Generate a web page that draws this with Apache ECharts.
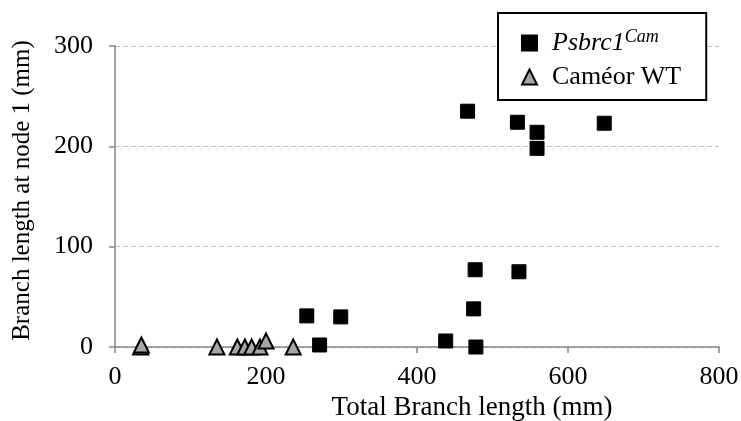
<!DOCTYPE html>
<html>
<head>
<meta charset="utf-8">
<script src="https://cdn.jsdelivr.net/npm/echarts@6/dist/echarts.min.js"></script>
<style>html,body{margin:0;padding:0;background:#fff}#c{width:741px;height:421px}</style>
</head>
<body>
<div id="c"></div>
<script>
const mutantName = 'Psbrc1Cam';
const wtName = 'Caméor WT';
const mutantPoints = [
  [467,235],[533,224],[559,214],[559,198],[648,223],
  [477,77],[535,75],[475,38],[438,6],[478,0],
  [254,31],[299,30],[271,2]
];
const wtPoints = [
  [34,0],[35,2],[135,0],[162,0],[172,0],[181,0],[192,0],[200,6],[236,0]
];
const xTicks = [0,200,400,600,800];
const yTicks = [0,100,200,300];

const font = 'Liberation Serif';
const fs = 26;
const chart = echarts.init(document.getElementById('c'));
chart.setOption({
  animation: false,
  backgroundColor: '#fff',
  grid: {left: 115, right: 22, top: 46, bottom: 74, containLabel: false, outerBoundsMode: 'none'},
  legend: {
    orient: 'vertical',
    left: 498, top: 13,
    padding: [15, 25, 10, 23],
    itemGap: 8,
    itemWidth: 15, itemHeight: 15,
    borderColor: '#000', borderWidth: 2,
    backgroundColor: '#fff',
    data: [mutantName, wtName],
    formatter: function (n) {
      return n === mutantName ? '{i|Psbrc1}{s|Cam}' : '{n|' + n + '}';
    },
    textStyle: {
      fontFamily: font, fontSize: fs, color: '#000',
      rich: {
        i: {fontFamily: font, fontSize: fs, fontStyle: 'italic', color: '#000', padding: [0,0,0,10]},
        s: {fontFamily: font, fontSize: 18, fontStyle: 'italic', color: '#000', verticalAlign: 'bottom', padding: [0,0,12,0]},
        n: {fontFamily: font, fontSize: fs, color: '#000', padding: [0,0,0,10]}
      }
    }
  },
  xAxis: {
    type: 'value', min: xTicks[0], max: xTicks[xTicks.length-1], interval: 200,
    name: 'Total Branch length (mm)', nameLocation: 'middle', nameGap: 38,
    nameTextStyle: {fontFamily: font, fontSize: 27, color: '#000', padding: [0,0,0,110]},
    axisLine: {lineStyle: {color: '#868686', width: 1.5}},
    axisTick: {show: true, length: 6, lineStyle: {color: '#868686', width: 1.5}},
    axisLabel: {fontFamily: font, fontSize: fs, color: '#000', margin: 17},
    splitLine: {show: false}
  },
  yAxis: {
    type: 'value', min: yTicks[0], max: yTicks[yTicks.length-1], interval: 100,
    name: 'Branch length at node 1 (mm)', nameLocation: 'middle', nameGap: 80,
    nameTextStyle: {fontFamily: font, fontSize: 25, color: '#000', padding: [0,0,0,12]},
    axisLine: {show: true, lineStyle: {color: '#868686', width: 1.5}},
    axisTick: {show: true, length: 6, lineStyle: {color: '#868686', width: 1.5}},
    axisLabel: {fontFamily: font, fontSize: fs, color: '#000', margin: 22},
    splitLine: {show: true, lineStyle: {color: '#bfbfbf', type: [5, 3], width: 1}}
  },
  series: [
    {
      name: mutantName, type: 'scatter', symbol: 'rect', symbolSize: 14,
      itemStyle: {color: '#000', borderColor: '#000', borderWidth: 1, opacity: 1},
      data: mutantPoints, z: 3
    },
    {
      name: wtName, type: 'scatter', symbol: 'triangle', symbolSize: [15, 15],
      itemStyle: {color: '#a6a6a6', borderColor: '#000', borderWidth: 2, opacity: 1},
      data: wtPoints, z: 4
    }
  ]
});
</script>
</body>
</html>
